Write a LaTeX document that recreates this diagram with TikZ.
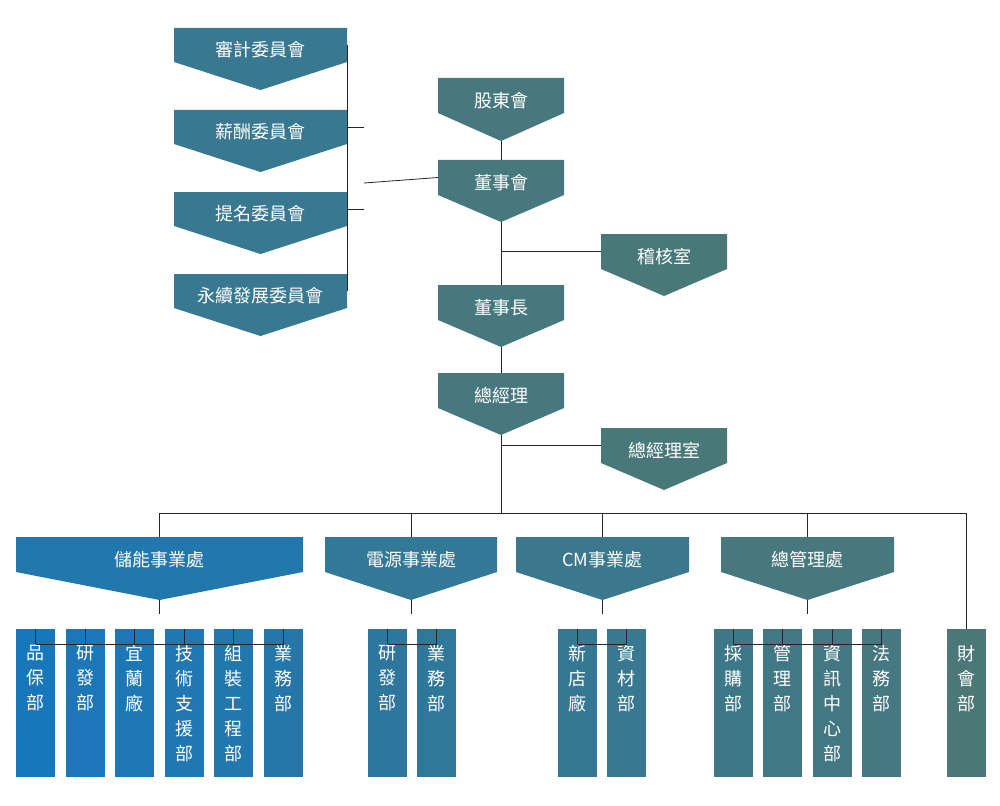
\documentclass[tikz,border=0pt]{standalone}
\usepackage{fontspec}
\setmainfont{Noto Sans CJK TC}
\usetikzlibrary{positioning}

\definecolor{cA}{HTML}{1577BF}
\definecolor{cB}{HTML}{4B7877}

\tikzset{
  lbl/.style={text=white,inner sep=0pt,font=\fontsize{18}{22}\selectfont},
  vlbl/.style={text=white,inner sep=0pt,anchor=north,align=center,
    font=\fontsize{18}{25}\selectfont},
  wire/.style={draw=black!85,line width=0.8pt}
}

% chevron: name, x1, x2, top, rect bottom, tip, mix, text
\newcommand{\chev}[8]{%
  \fill[cA!#7!cB] (#2,#4) -- (#3,#4) -- (#3,#5) -- ({(#2+#3)/2},#6) -- (#2,#5) -- cycle;
  \node[lbl] (#1) at ({(#2+#3)/2},{(#4+#5)/2+5}) {#8};
  \coordinate (#1-t) at ({(#2+#3)/2},#4);
  \coordinate (#1-b) at ({(#2+#3)/2},#6);
  \coordinate (#1-l) at (#2,{(#4+#5)/2});
  \coordinate (#1-r) at (#3,{(#4+#5)/2});
}
% department box: name, x1, mix, text
\newcommand{\dept}[4]{%
  \fill[cA!#3!cB] (#2,629) rectangle ({#2+39},777);
  \node[vlbl] (#1) at ({#2+19.5},645) {#4};
  \coordinate (#1-t) at ({#2+19.5},629);
}

\begin{document}
\begin{tikzpicture}[x=1pt,y=-1pt]
\useasboundingbox (0,0) rectangle (1000,805);

% committees
\chev{audit}{174}{347}{28}{62}{90}{35}{審計委員會}
\chev{pay}{174}{347}{110}{144}{172}{35}{薪酬委員會}
\chev{nom}{174}{347}{192}{226}{254}{35}{提名委員會}
\chev{esg}{174}{347}{274}{308}{336}{35}{永續發展委員會}

% main line
\chev{share}{438}{564}{78}{113}{141}{8}{股東會}
\chev{board}{438}{564}{160}{195}{222}{8}{董事會}
\chev{chair}{438}{564}{285}{320}{347}{8}{董事長}
\chev{gm}{438}{564}{373}{408}{435}{8}{總經理}
\chev{audr}{601}{727}{234}{269}{296}{3}{稽核室}
\chev{gmo}{601}{727}{428}{463}{490}{3}{總經理室}

% divisions
\chev{ess}{16}{303}{537}{572}{600}{75}{儲能事業處}
\chev{psu}{325}{497}{537}{572}{600}{45}{電源事業處}
\chev{cm}{516}{689}{537}{572}{600}{30}{CM事業處}
\chev{adm}{721}{894}{537}{572}{600}{10}{總管理處}

% departments
\dept{qa}{16}{95}{品\\保\\部}
\dept{rd}{66}{90}{研\\發\\部}
\dept{yl}{115}{85}{宜\\蘭\\廠}
\dept{ts}{165}{80}{技\\術\\支\\援\\部}
\dept{ae}{214}{75}{組\\裝\\工\\程\\部}
\dept{sa}{264}{70}{業\\務\\部}
\dept{rdb}{368}{55}{研\\發\\部}
\dept{sab}{417}{50}{業\\務\\部}
\dept{xd}{558}{40}{新\\店\\廠}
\dept{mat}{607}{35}{資\\材\\部}
\dept{pur}{714}{25}{採\\購\\部}
\dept{mgt}{763}{20}{管\\理\\部}
\dept{it}{813}{15}{資\\訊\\中\\心\\部}
\dept{law}{862}{12}{法\\務\\部}
\dept{fin}{947}{0}{財\\會\\部}

% connectors
\coordinate (cbar) at (364,183);
\draw[wire] (audit-r) -| (esg-r);
\foreach \c in {pay,nom} \draw[wire] (\c-r) -- (\c-r -| cbar);
\draw[wire] (cbar) -- (board-l);
\draw[wire] (share-b) -- (board-t);
\draw[wire] (board-b) -- (chair-t);
\draw[wire] (audr-l -| board-b) -- (audr-l);
\draw[wire] (chair-b) -- (gm-t);
\draw[wire] (gmo-l -| gm-b) -- (gmo-l);
\coordinate (bus) at (501,513);
\draw[wire] (gm-b) -- (bus);
\draw[wire] (ess-t |- bus) -- (fin-t |- bus);
\foreach \c in {ess,psu,cm,adm,fin} \draw[wire] (\c-t |- bus) -- (\c-t);
\foreach \d/\a/\b in {ess/qa/sa,psu/rdb/sab,cm/xd/mat,adm/pur/law}{
  \draw[wire] (\d-b) -- ++(0,14);
  \draw[wire] ([yshift=-15pt]\a-t) -- ([yshift=-15pt]\b-t);
}
\foreach \c in {qa,rd,yl,ts,ae,sa,rdb,sab,xd,mat,pur,mgt,it,law}
  \draw[wire] ([yshift=-15pt]\c-t) -- (\c-t);
\end{tikzpicture}
\end{document}
